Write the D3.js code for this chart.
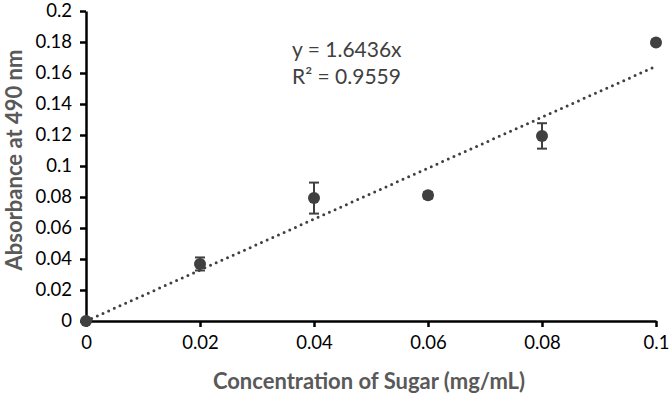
<!DOCTYPE html>
<html>
<head>
<meta charset="utf-8">
<script src="https://cdn.jsdelivr.net/npm/d3@7"></script>
<style>
  body { margin: 0; background: #fff; }
  svg text { font-family: Lato, "Open Sans", sans-serif; }
  .tick text { font-size: 18.5px; fill: #000; }
  .axis .domain, .axis .tick line { stroke: #000; stroke-width: 2.5px; }
  .title { font-size: 22px; font-weight: bold; fill: #595959; }
  .eq { font-size: 21px; fill: #404040; }
</style>
</head>
<body>
<div id="chart"></div>
<script>
// data
var concentration = [0, 0.02, 0.04, 0.06, 0.08, 0.1];
var absorbance = [0, 0.0368, 0.0793, 0.0811, 0.1194, 0.1797];
var errorBar = [0, 0.0042, 0.0100, 0.0020, 0.0082, 0];
var slope = 1.6436;
var rSquared = "0.9559";
var xTicks = [0, 0.02, 0.04, 0.06, 0.08, 0.1];
var yTicks = [0, 0.02, 0.04, 0.06, 0.08, 0.1, 0.12, 0.14, 0.16, 0.18, 0.2];

var width = 669, height = 394;
var margin = { top: 11, right: 13, bottom: 73, left: 86 };

var svg = d3.select("#chart")
  .append("svg")
  .attr("width", width)
  .attr("height", height);

var xScale = d3.scaleLinear()
  .domain([0, 0.1])
  .range([margin.left, width - margin.right]);

var yScale = d3.scaleLinear()
  .domain([0, 0.2])
  .range([height - margin.bottom, margin.top]);

var dataset = concentration.map(function(c, i) {
  return { x: c, y: absorbance[i], err: errorBar[i] };
});

var fmt = function(d) { return String(+d.toFixed(2)); };

// axes
var xAxis = d3.axisBottom(xScale)
  .tickValues(xTicks)
  .tickSize(6)
  .tickSizeOuter(0)
  .tickPadding(9)
  .tickFormat(fmt);

var yAxis = d3.axisLeft(yScale)
  .tickValues(yTicks)
  .tickSize(6)
  .tickSizeOuter(0)
  .tickPadding(8)
  .tickFormat(fmt);

svg.append("g")
  .attr("class", "axis x-axis")
  .attr("transform", "translate(0," + (height - margin.bottom) + ")")
  .call(xAxis);

svg.append("g")
  .attr("class", "axis y-axis")
  .attr("transform", "translate(" + margin.left + ",0)")
  .call(yAxis);

// thick black axis lines like the original
svg.selectAll(".axis .domain, .axis .tick line")
  .attr("stroke", "#000")
  .attr("stroke-width", 2.5);

// trendline
var trend = d3.line()
  .x(function(d) { return xScale(d); })
  .y(function(d) { return yScale(slope * d); });

svg.append("path")
  .datum([0, 0.1])
  .attr("d", trend)
  .attr("fill", "none")
  .attr("stroke", "#404040")
  .attr("stroke-width", 3)
  .attr("stroke-linecap", "round")
  .attr("stroke-dasharray", "0,6.2");

// error bars
var bars = svg.append("g")
  .selectAll("g")
  .data(dataset.filter(function(d) { return d.err > 0; }))
  .enter()
  .append("g")
  .attr("stroke", "#404040")
  .attr("stroke-width", 2);

bars.append("line")
  .attr("x1", function(d) { return xScale(d.x); })
  .attr("x2", function(d) { return xScale(d.x); })
  .attr("y1", function(d) { return yScale(d.y + d.err); })
  .attr("y2", function(d) { return yScale(d.y - d.err); });

bars.append("line")
  .attr("x1", function(d) { return xScale(d.x) - 5; })
  .attr("x2", function(d) { return xScale(d.x) + 5; })
  .attr("y1", function(d) { return yScale(d.y + d.err); })
  .attr("y2", function(d) { return yScale(d.y + d.err); });

bars.append("line")
  .attr("x1", function(d) { return xScale(d.x) - 5; })
  .attr("x2", function(d) { return xScale(d.x) + 5; })
  .attr("y1", function(d) { return yScale(d.y - d.err); })
  .attr("y2", function(d) { return yScale(d.y - d.err); });

// points
svg.append("g")
  .selectAll("circle")
  .data(dataset)
  .enter()
  .append("circle")
  .attr("cx", function(d) { return xScale(d.x); })
  .attr("cy", function(d) { return yScale(d.y); })
  .attr("r", 6)
  .attr("fill", "#404040");

// equation
svg.append("text")
  .attr("class", "eq")
  .attr("x", 292)
  .attr("y", 57)
  .text("y = " + slope + "x");

svg.append("text")
  .attr("class", "eq")
  .attr("x", 292)
  .attr("y", 84)
  .text("R² = " + rSquared);

// axis titles
svg.append("text")
  .attr("class", "title")
  .attr("text-anchor", "middle")
  .attr("x", 369)
  .attr("y", 389)
  .text("Concentration of Sugar (mg/mL)");

svg.append("text")
  .attr("class", "title")
  .attr("text-anchor", "middle")
  .attr("transform", "translate(22,160) rotate(-90)")
  .text("Absorbance at 490 nm");
</script>
</body>
</html>
